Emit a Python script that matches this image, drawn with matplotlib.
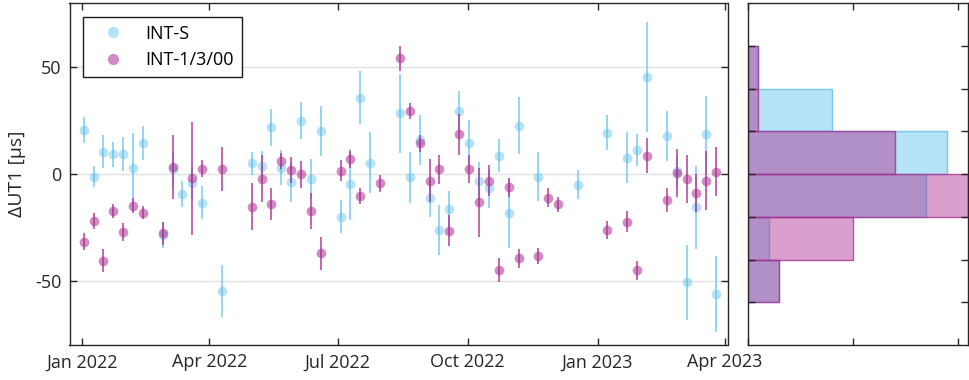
import matplotlib
matplotlib.use('agg')
import numpy as np
import pandas as pd
import matplotlib.pyplot as plt
import matplotlib.dates as mdates

plt.rcParams['font.family'] = ['Open Sans', 'DejaVu Sans']
plt.rcParams['axes.unicode_minus'] = False

# weekly sessions, week 0 = 2022-01-02
start = pd.Timestamp('2022-01-02')

ints_week = [0, 1, 2, 3, 4, 5, 6, 8, 9, 10, 11, 12, 14, 17, 18, 19, 20, 21, 22, 23, 24,
             26, 27, 28, 29, 32, 33, 34, 35, 36, 37, 38, 39, 40, 41, 42, 43, 44, 46, 50,
             53, 55, 56, 57, 59, 60, 61, 62, 63, 64]
ints_dut1 = [20.6, -1.2, 10.5, 9.2, 9.2, 3.0, 14.4, -28.6, 2.3, -9.4, -4.2, -13.4, -54.8,
             5.0, 3.9, 21.8, 3.0, -3.6, 25.0, -2.5, 20.3, -20.0, -4.7, 35.7, 5.3, 28.4,
             -1.6, 15.9, -11.4, -26.2, -16.4, 29.5, 14.7, -3.3, -6.7, 8.6, -18.4, 22.6,
             -1.2, -5.1, 19.4, 7.6, 11.2, 45.3, 17.8, 1.6, -50.7, -15.6, 18.6, -56.2]
ints_err = [6, 5, 7.8, 5.9, 8, 16, 8, 6, 8, 6, 7.6, 7.7, 12, 5.5, 7, 8.6, 8, 9.4, 8.6,
            9.4, 11.7, 7.8, 16.6, 12.3, 14.4, 18.6, 12, 11.9, 8.7, 11.9, 8.6, 9.5, 10.7,
            8.7, 9, 7.8, 16, 13.3, 11.5, 6.8, 8.3, 12, 7.3, 25.7, 11.9, 7.4, 17.4, 19.4,
            18, 17.7]

int1_week = [0, 1, 2, 3, 4, 5, 6, 8, 9, 11, 12, 14, 17, 18, 19, 20, 21, 22, 23, 24, 26,
             27, 28, 30, 32, 33, 34, 35, 36, 37, 38, 39, 40, 41, 42, 43, 44, 46, 47, 48,
             53, 55, 56, 57, 59, 60, 61, 62, 63, 64]
int1_dut1 = [-31.7, -22.0, -40.5, -17.3, -27.2, -14.8, -18.1, -27.8, 3.1, -2.0, 2.5, 2.5,
             -15.3, -2.3, -14.0, 5.9, 1.9, -0.2, -17.3, -37.1, 1.6, 6.9, -10.3, -4.4, 54.2,
             29.5, 14.4, -3.1, 2.2, -26.5, 18.7, 2.3, -13.3, -3.1, -45.0, -6.3, -39.5,
             -38.4, -11.1, -14.2, -26.2, -22.3, -45.0, 8.6, -12.2, 0.3, -2.5, -9.0, -3.1, 1.1]
int1_err = [4, 3.7, 5.2, 3.3, 4.3, 3.5, 3, 5.5, 15, 26.5, 4, 10.3, 11, 11, 7.4, 3.7, 6.2,
            6.2, 8.6, 7.6, 4.8, 3.9, 3.7, 4.1, 5.9, 3.9, 3.9, 9.9, 6.9, 7.4, 9.6, 6.6, 16.3,
            7.1, 5.5, 4.3, 4.4, 3.7, 4.5, 3.6, 4.2, 4.8, 4.4, 8.2, 5.6, 11.2, 11.3, 9, 13.7,
            11.4]

hist_bins = [-60, -40, -20, 0, 20, 40, 60]

c_s = (0.36, 0.75, 0.92)
c_1 = (0.67, 0.18, 0.57)

ints_dates = start + pd.to_timedelta(7 * np.array(ints_week), unit='D')
int1_dates = start + pd.to_timedelta(7 * np.array(int1_week), unit='D')

fig = plt.figure(figsize=(9.69, 3.8), dpi=100)
ax = fig.add_axes([69.5 / 969, 35 / 380, 658 / 969, 342 / 380])
ax2 = fig.add_axes([748 / 969, 35 / 380, 220 / 969, 342 / 380])

ax.yaxis.grid(True, color='0.88', lw=1)
ax.set_axisbelow(True)

ax.errorbar(ints_dates, ints_dut1, yerr=ints_err, fmt='none', ecolor=c_s + (0.75,), elinewidth=1.2)
h1, = ax.plot(ints_dates, ints_dut1, 'o', color=c_s, alpha=0.45, ms=7, mew=0, label='INT-S')
ax.errorbar(int1_dates, int1_dut1, yerr=int1_err, fmt='none', ecolor=c_1 + (0.85,), elinewidth=1.2)
h2, = ax.plot(int1_dates, int1_dut1, 'o', color=c_1, alpha=0.55, ms=7, mew=0, label='INT-1/3/00')

ax.set_xlim(pd.Timestamp('2021-12-23'), pd.Timestamp('2023-04-03'))
ax.set_ylim(-80, 80)
ax.set_yticks([-50, 0, 50])
xt = pd.to_datetime(['2022-01-01', '2022-04-01', '2022-07-01', '2022-10-01', '2023-01-01', '2023-04-01'])
ax.set_xticks(xt)
ax.xaxis.set_major_formatter(mdates.DateFormatter('%b %Y'))
ax.tick_params(direction='in', top=True, right=True, length=5, width=1, labelsize=13,
               colors='0.15', pad=6)
ax.set_ylabel('ΔUT1 [µs]', fontsize=14, color='0.15', labelpad=6)
for s in ax.spines.values():
    s.set_color('0.15')
    s.set_linewidth(1)

leg = ax.legend(handles=[h1, h2], loc='upper left', fontsize=13, fancybox=False,
                edgecolor='0.1', framealpha=1, borderpad=0.45, handletextpad=0.6,
                handlelength=2.4, labelspacing=0.45, markerscale=1.15,
                borderaxespad=0, bbox_to_anchor=(0.0205, 0.96))
leg.get_frame().set_linewidth(1)

# histograms
counts_s, edges = np.histogram(ints_dut1, bins=hist_bins)
counts_1, _ = np.histogram(int1_dut1, bins=hist_bins)
centers = (edges[:-1] + edges[1:]) / 2
ax2.barh(centers, counts_s, height=20, color=c_s + (0.45,), edgecolor=c_s + (0.8,), linewidth=1)
ax2.barh(centers, counts_1, height=20, color=c_1 + (0.45,), edgecolor=c_1 + (0.8,), linewidth=1)
ax2.set_ylim(-80, 80)
ax2.set_xlim(0, max(counts_s.max(), counts_1.max()))
ax2.set_yticks(hist_bins)
ax2.set_xticks([0, 10, 20])
ax2.tick_params(direction='in', top=True, right=True, length=5, width=1,
                labelleft=False, labelbottom=False, colors='0.15')
for s in ax2.spines.values():
    s.set_color('0.15')
    s.set_linewidth(1)

fig.savefig('out.png', dpi=100)
